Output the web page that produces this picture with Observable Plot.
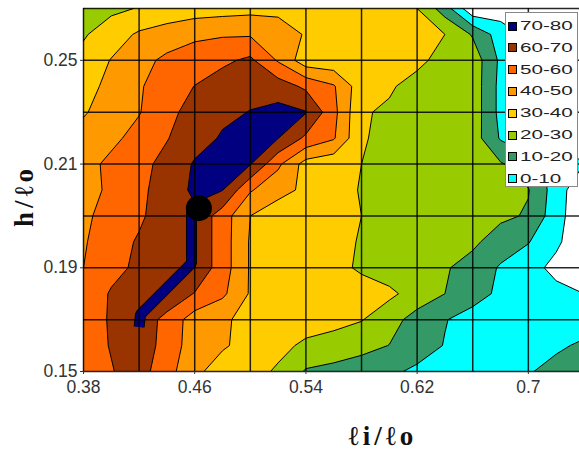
<!DOCTYPE html>
<html>
<head>
<meta charset="utf-8">
<script src="https://cdn.jsdelivr.net/npm/d3@7"></script>
<script src="https://cdn.jsdelivr.net/npm/@observablehq/plot@0.6"></script>
<style>
  html, body { margin: 0; padding: 0; background: #fff; }
  #wrap { position: relative; width: 579px; height: 452px; overflow: hidden; }
  .legend { position: absolute; left: 505px; top: 12px; width: 73px; height: 175px;
            background: #fff; border: 1px solid #888; box-sizing: border-box; }
  .item { position: absolute; left: 2px; height: 20px; display: flex; align-items: center; }
  .sw { width: 7px; height: 7px; border: 1px solid #000; flex: none; }
  .lbl { font: 12.5px "Liberation Sans", Arial, sans-serif; color: #222; margin-left: 3px;
         transform: scaleX(1.65); transform-origin: left center; white-space: nowrap; }
  .title { position: absolute; font-family: "Liberation Serif", "DejaVu Serif", serif;
           font-weight: bold; color: #111; white-space: nowrap; line-height: 24px; }
</style>
</head>
<body>
<div id="wrap"></div>
<script>
// ---- data ----
// sample columns (x) and rows (y, listed top to bottom)
const xValues = [0.38, 0.40, 0.42, 0.44, 0.46, 0.48, 0.50, 0.52, 0.54, 0.56,
                 0.58, 0.60, 0.62, 0.64, 0.66, 0.68, 0.70, 0.72, 0.74];
const yValues = [0.29, 0.28, 0.27, 0.26, 0.25, 0.24, 0.23, 0.22,
                 0.21, 0.20, 0.19, 0.18, 0.17, 0.16, 0.15];
// z values, one row per yValues entry (top to bottom)
const zRows = [
  [25, 28, 30.5, 33, 35, 36, 37, 37, 36, 35, 34, 32, 30, 15, -8, -5, -5, -5, -5],
  [29, 35, 41.5, 45, 48, 49, 49, 46, 39, 37, 36, 35, 33, 30, 19, 5, -2, -5, -5],
  [33, 40.5, 47, 52, 55, 58, 62, 49, 34, 33, 33, 33, 32, 27, 26, 8, 5, 0, -3],
  [36, 43, 49, 55, 60.2, 65, 67, 65, 58, 51, 34, 31, 27, 25, 26, 7, 4, 0, -3],
  [39, 45, 49.5, 57, 64, 68, 70.3, 73, 70.5, 53, 30.8, 28.8, 27, 26, 26, 7, 3, 0, -3],
  [44, 48, 53, 59.5, 66, 71, 74, 70.2, 58, 51, 31, 27, 26, 26, 25, 9, 4, 0, -3],
  [47, 52, 57, 63, 71, 73, 70.5, 52, 36, 33, 30, 27, 26, 25, 24, 21, 14, 7, 0],
  [46, 52, 58, 64, 72, 70.3, 51, 43, 38.2, 33, 29.5, 27, 26, 25, 24, 22, 20.5, 5, -8],
  [48, 54, 58.5, 65, 68, 55, 40, 35, 33, 32, 30, 27, 26, 25, 24, 22, 19, 4, -8],
  [49, 56, 61, 66, 68, 55, 39, 35, 33, 32, 29.5, 27, 25, 23, 22, 15, 10.5, 2, -8],
  [50, 57, 62, 67, 68, 55, 39, 35, 33, 32, 29, 25, 23, 21, 16, 9, 4, -3, -10],
  [53, 61, 66, 67, 59.5, 52, 39, 36, 35, 34, 33, 32, 26, 20, 14, 8, 6, 3, 0],
  [55, 61, 66, 57, 45, 41, 38, 36, 35, 33, 30.5, 24, 16, 10.5, 6, 4, 4, 5, 7],
  [56, 60.5, 63, 58, 43, 41, 37, 33, 28, 26, 23, 19.8, 15, 9.5, 6, 4, 6, 9, 11],
  [55, 59.5, 64, 54, 42, 36, 34, 28.5, 19, 17, 15, 12, 8, 6, 5, 7, 9.5, 12, 14]
];
// narrow 70-80 ridge running down-left from the marker
const ridgeX = [0.4577, 0.4577, 0.4210, 0.4200];
const ridgeY = [0.2129, 0.1917, 0.1720, 0.1672];
const thresholds = [0, 10, 20, 30, 40, 50, 60, 70];
const bandLabels = ["0-10", "10-20", "20-30", "30-40", "40-50", "50-60", "60-70", "70-80"];
const bandColors = ["#00ffff", "#339966", "#99cc00", "#ffcc00", "#ff9900", "#ff6600", "#993300", "#000080"];
const xTicks = [0.38, 0.46, 0.54, 0.62, 0.70];
const xTickLabels = ["0.38", "0.46", "0.54", "0.62", "0.7"];
const yTicks = [0.15, 0.19, 0.23, 0.27];
const yTickLabels = ["0.15", "0.19", "0.21", "0.25"];
const xGrid = [0.38, 0.42, 0.46, 0.50, 0.54, 0.58, 0.62, 0.66, 0.70, 0.74];
const yGrid = [0.15, 0.17, 0.19, 0.21, 0.23, 0.25, 0.27, 0.29];
const markerX = [0.463];
const markerY = [0.213];
const xTitle = "ℓi/ℓo";
const yTitle = "h/ℓo";

// ---- build grid for Plot.contour (row 0 = bottom) ----
const nx = xValues.length, ny = yValues.length;
const dx = xValues[1] - xValues[0];
const dy = yValues[0] - yValues[1];
const flat = [];
for (let r = ny - 1; r >= 0; --r) flat.push(...zRows[r]);
const yBottom = yValues[ny - 1], yTop = yValues[0];

const ridge = ridgeX.map((x, i) => ({x, y: ridgeY[i]}));
const marker = markerX.map((x, i) => ({x, y: markerY[i]}));
const xLabelMap = new Map(xTicks.map((d, i) => [d, xTickLabels[i]]));
const yLabelMap = new Map(yTicks.map((d, i) => [d, yTickLabels[i]]));

const chart = Plot.plot({
  width: 579,
  height: 452,
  marginLeft: 83,
  marginRight: 0,
  marginTop: 8,
  marginBottom: 81,
  x: {domain: [0.38, 0.7368]},
  y: {domain: [0.15, 0.29]},
  color: {type: "threshold", domain: thresholds.slice(1), range: bandColors},
  style: {fontFamily: '"Liberation Sans", Arial, sans-serif', fontSize: "17.5px", color: "#333", background: "transparent"},
  marks: [
    Plot.contour(flat, {
      width: nx, height: ny,
      x1: xValues[0] - dx / 2, x2: xValues[nx - 1] + dx / 2,
      y1: yBottom - dy / 2, y2: yTop + dy / 2,
      fill: Plot.identity,
      thresholds,
      stroke: "#000",
      strokeWidth: 1,
      clip: true
    }),
    Plot.line(ridge, {x: "x", y: "y", stroke: "#000", strokeWidth: 11, strokeLinejoin: "miter", strokeLinecap: "butt"}),
    Plot.line(ridge, {x: "x", y: "y", stroke: bandColors[7], strokeWidth: 9, strokeLinejoin: "miter", strokeLinecap: "butt"}),
    Plot.ruleX(xGrid, {stroke: "#000", strokeWidth: 1.5, strokeOpacity: 0.85}),
    Plot.ruleY(yGrid, {stroke: "#000", strokeWidth: 1.5, strokeOpacity: 0.85}),
    Plot.dot(marker, {x: "x", y: "y", r: 13, fill: "#000", stroke: "none"}),
    Plot.axisX(xTicks, {tickFormat: d => xLabelMap.get(d), tickSize: 3, tickPadding: 6, label: null, fontSize: 17.5}),
    Plot.axisY(yTicks, {tickFormat: d => yLabelMap.get(d), tickSize: 3, tickPadding: 3, label: null, fontSize: 17.5})
  ]
});

const wrap = document.getElementById("wrap");
wrap.appendChild(chart);

// legend (top band first)
const legend = document.createElement("div");
legend.className = "legend";
for (let k = bandLabels.length - 1, i = 0; k >= 0; --k, ++i) {
  const item = document.createElement("div");
  item.className = "item";
  item.style.top = (3 + i * 21.8) + "px";
  const sw = document.createElement("span");
  sw.className = "sw";
  sw.style.background = bandColors[k];
  const lb = document.createElement("span");
  lb.className = "lbl";
  lb.textContent = bandLabels[k];
  item.appendChild(sw);
  item.appendChild(lb);
  legend.appendChild(item);
}
wrap.appendChild(legend);

// axis titles
const xt = document.createElement("div");
xt.className = "title";
xt.textContent = xTitle;
xt.style.fontSize = "27px";
xt.style.letterSpacing = "4px";
xt.style.left = "383px";
xt.style.top = "436px";
xt.style.transform = "translate(-50%, -50%)";
wrap.appendChild(xt);

const yt = document.createElement("div");
yt.className = "title";
yt.textContent = yTitle;
yt.style.fontSize = "27px";
yt.style.letterSpacing = "4px";
yt.style.left = "24px";
yt.style.top = "196px";
yt.style.transform = "translate(-50%, -50%) rotate(-90deg)";
wrap.appendChild(yt);
</script>
</body>
</html>
